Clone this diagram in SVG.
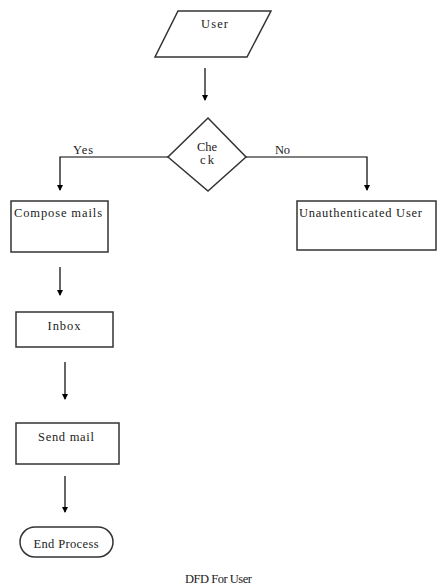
<svg xmlns="http://www.w3.org/2000/svg" width="437" height="588" viewBox="0 0 437 588">
<defs>
<marker id="ah" markerWidth="6" markerHeight="6" refX="5" refY="3" orient="auto" markerUnits="userSpaceOnUse">
<path d="M0,0 L6,3 L0,6 Z" fill="#000"/>
</marker>
</defs>
<style>
.s{fill:#fff;stroke:#333;stroke-width:1.5}
.t{font-family:"Liberation Serif","Times New Roman",serif;font-size:12.5px;fill:#222}
.c{stroke:#000;stroke-width:1.2;fill:none}
</style>
<rect width="437" height="588" fill="#fff"/>
<g id="user">
<polygon class="s" points="178,11 271,11 247,57 155,57"/>
<text class="t" x="214.5" y="28" text-anchor="middle" textLength="27">User</text>
</g>
<g id="check">
<polygon class="s" points="208,118 246,157 208,191 168,157"/>
<text class="t" x="207" y="151" text-anchor="middle" textLength="20">Che</text>
<text class="t" x="207" y="164" text-anchor="middle" textLength="14">ck</text>
</g>
<g id="compose">
<rect class="s" x="11" y="201" width="97" height="51"/>
<text class="t" x="14" y="217" textLength="88">Compose mails</text>
</g>
<g id="unauth">
<rect class="s" x="297" y="201" width="139" height="49"/>
<text class="t" x="299" y="217" textLength="123">Unauthenticated User</text>
</g>
<g id="inbox">
<rect class="s" x="16" y="312" width="97" height="35"/>
<text class="t" x="64" y="330" text-anchor="middle" textLength="33">Inbox</text>
</g>
<g id="send">
<rect class="s" x="16" y="423" width="103" height="41"/>
<text class="t" x="66" y="441" text-anchor="middle" textLength="56">Send mail</text>
</g>
<g id="end">
<rect class="s" x="20" y="527" width="93" height="30" rx="15"/>
<text class="t" x="66" y="548" text-anchor="middle" textLength="65">End Process</text>
</g>
<g id="connectors">
<line class="c" x1="205" y1="68" x2="205" y2="100" marker-end="url(#ah)"/>
<polyline class="c" points="168,157 60,157 60,190" marker-end="url(#ah)"/>
<polyline class="c" points="246,157 367,157 367,190" marker-end="url(#ah)"/>
<line class="c" x1="60" y1="267" x2="60" y2="295" marker-end="url(#ah)"/>
<line class="c" x1="65" y1="362" x2="65" y2="399" marker-end="url(#ah)"/>
<line class="c" x1="65" y1="476" x2="65" y2="512" marker-end="url(#ah)"/>
<text class="t" x="73" y="154" textLength="20">Yes</text>
<text class="t" x="275" y="154" textLength="15">No</text>
</g>
<text class="t" x="185" y="583" textLength="67">DFD For User</text>
</svg>
